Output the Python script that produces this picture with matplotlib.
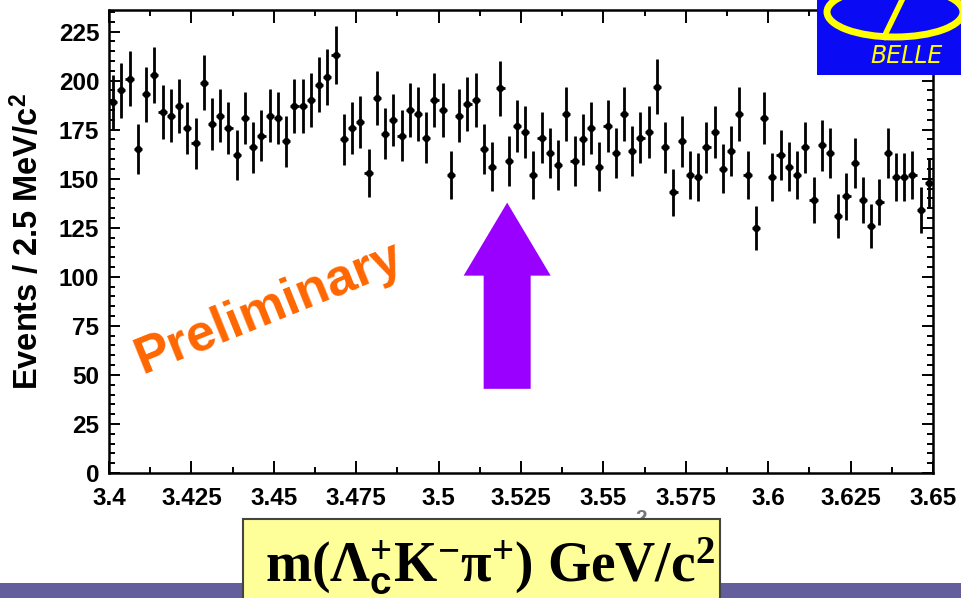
import numpy as np
import matplotlib
matplotlib.use("Agg")
import matplotlib.pyplot as plt
from matplotlib.patches import Rectangle, Ellipse, FancyArrow
from matplotlib.ticker import MultipleLocator

plt.rcParams['mathtext.fontset'] = 'custom'
plt.rcParams['mathtext.rm'] = 'Liberation Serif:bold'
plt.rcParams['mathtext.it'] = 'Liberation Serif:bold:italic'
plt.rcParams['mathtext.bf'] = 'Liberation Serif:bold'
plt.rcParams['mathtext.sf'] = 'Liberation Sans:bold'

# Lambda_c+ K- pi+ invariant mass, 2.5 MeV bins from 3.40 to 3.65 GeV
m_lo, m_hi, bin_w = 3.4, 3.65, 0.0025
counts = [189, 195, 201, 165, 193, 203, 184, 182, 187, 176,
          168, 199, 178, 182, 176, 162, 181, 166, 172, 182,
          181, 169, 187, 187, 190, 198, 202, 213, 170, 176,
          179, 153, 191, 173, 180, 172, 185, 183, 171, 190,
          185, 152, 182, 188, 190, 165, 156, 196, 159, 177,
          174, 152, 171, 163, 157, 183, 159, 170, 176, 156,
          177, 163, 183, 164, 171, 174, 197, 166, 143, 169,
          152, 151, 166, 174, 155, 164, 183, 152, 125, 181,
          151, 162, 156, 152, 166, 139, 167, 163, 131, 141,
          158, 139, 126, 138, 163, 151, 151, 152, 134, 148]
xtick_vals = [3.4, 3.425, 3.45, 3.475, 3.5, 3.525, 3.55, 3.575, 3.6, 3.625, 3.65]
xtick_labels = ["3.4", "3.425", "3.45", "3.475", "3.5", "3.525",
                "3.55", "3.575", "3.6", "3.625", "3.65"]
ytick_vals = [0, 25, 50, 75, 100, 125, 150, 175, 200, 225]
arrow_mass = 3.5208

counts = np.array(counts, dtype=float)
centers = m_lo + bin_w * (np.arange(len(counts)) + 0.5)

W, H = 961, 598
fig = plt.figure(figsize=(W / 100, H / 100), dpi=100)
fig.patch.set_facecolor("white")
ax = fig.add_axes([109 / W, (H - 473) / H, 824 / W, 463 / H])

ax.errorbar(centers, counts, yerr=np.sqrt(counts), xerr=bin_w / 2,
            fmt='o', color='black', ms=4.2, elinewidth=2.0, capsize=0, zorder=3)

ax.set_xlim(m_lo, m_hi)
ax.set_ylim(0, 236)
ax.set_xticks(xtick_vals)
ax.set_xticklabels(xtick_labels)
ax.set_yticks(ytick_vals)
ax.xaxis.set_minor_locator(MultipleLocator(0.0125))
ax.yaxis.set_minor_locator(MultipleLocator(5))
ax.tick_params(which='both', direction='in', top=True, right=True, width=1.4)
ax.tick_params(which='major', length=8)
ax.tick_params(which='minor', length=4)
ax.tick_params(axis='x', which='major', length=9, pad=10)
ax.tick_params(axis='y', pad=7)
for lab in ax.get_xticklabels() + ax.get_yticklabels():
    lab.set_fontfamily('Liberation Sans')
    lab.set_fontweight('bold')
    lab.set_fontsize(17.5)
for sp in ax.spines.values():
    sp.set_linewidth(1.8)

ax.set_ylabel(r"Events / 2.5 MeV/c$^{\mathsf{2}}$", fontfamily='Liberation Sans',
              fontweight='bold', fontsize=23.5)
ax.yaxis.set_label_coords(-64 / 824, 0.5)

# arrow marking the mass region of interest
head_w = 87 / 824 * (m_hi - m_lo)
body_w = 47 / 824 * (m_hi - m_lo)
ax.add_patch(FancyArrow(arrow_mass, 42.9, 0, 137.8 - 42.9, width=body_w,
                        head_width=head_w, head_length=37.2,
                        length_includes_head=True, color='#9900ff', lw=0, zorder=4))

fig.text(269 / W, 1 - 308 / H, "Preliminary", color='#ff6600', fontsize=37.5,
         fontfamily='Liberation Sans', fontweight='bold', rotation=22,
         ha='center', va='center', rotation_mode='anchor')

# Belle logo in the top right corner
logo = Rectangle((817 / W, 1 - 75 / H), (W - 817) / W, 75 / H,
                 transform=fig.transFigure, facecolor='#0a0af5', edgecolor='none', zorder=5)
fig.patches.append(logo)
ring = Ellipse((895 / W, 1 - 12 / H), 136 / W, 50 / H, transform=fig.transFigure,
               fill=False, edgecolor='#ffff00', lw=5, zorder=6)
ring.set_clip_path(logo)
fig.patches.append(ring)
fig.lines.append(plt.Line2D([902 / W, 884 / W], [1.0, 1 - 37 / H],
                            transform=fig.transFigure, color='#ffff00', lw=4, zorder=6))
fig.text(906 / W, 1 - 56 / H, "BELLE", color='#ffff00', fontsize=17,
         fontfamily='DejaVu Sans', style='italic', ha='center', va='center', zorder=7)

# bottom band and axis title box
fig.patches.append(Rectangle((0, 0), 1, 15 / H, transform=fig.transFigure,
                             facecolor='#625f9c', edgecolor='none', zorder=1))
fig.text(641 / W, 1 - 518 / H, "2", color='#777777', fontsize=15,
         fontfamily='Liberation Sans', fontweight='bold', ha='center', va='center', zorder=1)
fig.patches.append(Rectangle((243 / W, -0.01), 477 / W, (598 - 519) / H + 0.01,
                             transform=fig.transFigure, facecolor='#ffff99',
                             edgecolor='#444444', lw=1.5, zorder=2))
fig.text(490 / W, 1 - 566 / H,
         r"m($\Lambda_{\mathsf{c}}^{+}$K$^{-}\mathrm{\pi}^{+}$) GeV/c$^{2}$",
         fontfamily='Liberation Serif', fontweight='bold', fontsize=40,
         ha='center', va='center', zorder=3)

fig.savefig("out.png", dpi=100)
